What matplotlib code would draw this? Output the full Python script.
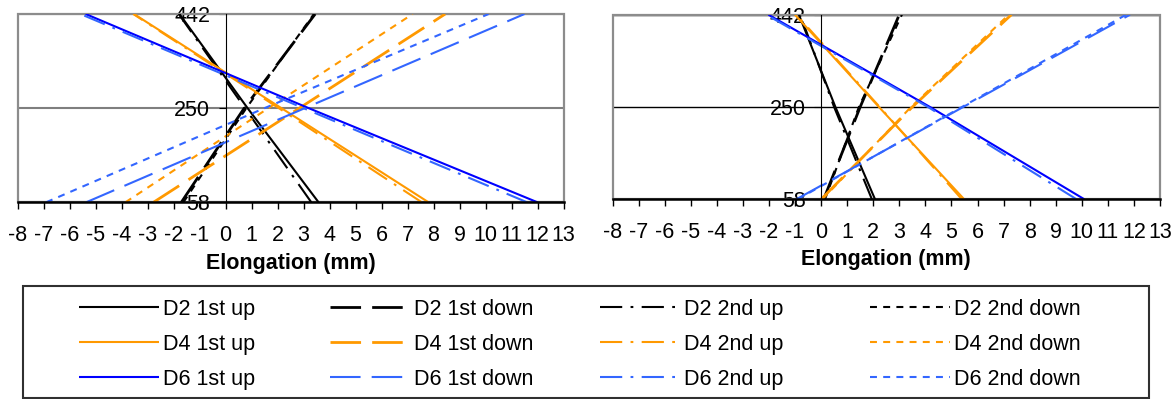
import matplotlib
matplotlib.use('Agg')
import matplotlib.pyplot as plt
from matplotlib.patches import Rectangle

plt.rcParams['font.family'] = ['Liberation Sans', 'DejaVu Sans']
plt.rcParams['axes.unicode_minus'] = False
plt.rcParams['lines.scale_dashes'] = False

# ---------------- data ----------------
positions = [58, 250, 442]          # y positions of the readings
y_ticks = [58, 250, 442]
x_ticks = list(range(-8, 14))
x_tick_labels = [str(v) for v in x_ticks]

series_names = ['D2 1st up', 'D2 1st down', 'D2 2nd up', 'D2 2nd down',
                'D4 1st up', 'D4 1st down', 'D4 2nd up', 'D4 2nd down',
                'D6 1st up', 'D6 1st down', 'D6 2nd up', 'D6 2nd down']

# left panel: elongation (mm) at positions 58 / 250 / 442
left_d2_1st_up = [3.58, 0.85, -1.77]
left_d2_1st_down = [-1.70, 0.72, 3.45]
left_d2_2nd_up = [3.30, 0.75, -1.80]
left_d2_2nd_down = [-1.62, 0.80, 3.40]
left_d4_1st_up = [7.81, 2.15, -3.52]
left_d4_1st_down = [-2.77, 2.84, 8.45]
left_d4_2nd_up = [7.55, 2.05, -3.55]
left_d4_2nd_down = [-3.85, 1.65, 7.20]
left_d6_1st_up = [12.00, 3.20, -5.38]
left_d6_1st_down = [-5.36, 3.05, 11.50]
left_d6_2nd_up = [11.60, 3.00, -5.58]
left_d6_2nd_down = [-6.90, 1.50, 10.12]

# right panel
right_d2_1st_up = [2.07, 0.55, -0.85]
right_d2_1st_down = [0.10, 1.50, 3.00]
right_d2_2nd_up = [1.95, 0.50, -0.80]
right_d2_2nd_down = [0.15, 1.45, 3.10]
right_d4_1st_up = [5.49, 2.22, -1.00]
right_d4_1st_down = [0.00, 3.50, 7.30]
right_d4_2nd_up = [5.40, 2.25, -0.95]
right_d4_2nd_down = [0.05, 3.45, 7.20]
right_d6_1st_up = [10.10, 4.18, -2.02]
right_d6_1st_down = [-0.95, 5.45, 11.85]
right_d6_2nd_up = [9.80, 4.10, -2.10]
right_d6_2nd_down = [-0.90, 5.40, 11.70]

left_series = [left_d2_1st_up, left_d2_1st_down, left_d2_2nd_up, left_d2_2nd_down,
               left_d4_1st_up, left_d4_1st_down, left_d4_2nd_up, left_d4_2nd_down,
               left_d6_1st_up, left_d6_1st_down, left_d6_2nd_up, left_d6_2nd_down]
right_series = [right_d2_1st_up, right_d2_1st_down, right_d2_2nd_up, right_d2_2nd_down,
                right_d4_1st_up, right_d4_1st_down, right_d4_2nd_up, right_d4_2nd_down,
                right_d6_1st_up, right_d6_1st_down, right_d6_2nd_up, right_d6_2nd_down]

# ---------------- styles ----------------
BLACK, ORANGE, BLUE, LBLUE = '#000000', '#FF9900', '#0000FF', '#3366FF'
ls_solid = '-'
ls_dash = (0, (22, 8))
ls_dashdot = (0, (16, 6, 2, 6))
ls_dot = (0, (5, 4.5))

styles = {
    'D2 1st up': dict(color=BLACK, ls=ls_solid, lw=1.5),
    'D2 1st down': dict(color=BLACK, ls=ls_dash, lw=2.0),
    'D2 2nd up': dict(color=BLACK, ls=ls_dashdot, lw=1.5),
    'D2 2nd down': dict(color=BLACK, ls=ls_dot, lw=1.5),
    'D4 1st up': dict(color=ORANGE, ls=ls_solid, lw=1.5),
    'D4 1st down': dict(color=ORANGE, ls=ls_dash, lw=2.0),
    'D4 2nd up': dict(color=ORANGE, ls=ls_dashdot, lw=1.5),
    'D4 2nd down': dict(color=ORANGE, ls=ls_dot, lw=1.5),
    'D6 1st up': dict(color=BLUE, ls=ls_solid, lw=1.5),
    'D6 1st down': dict(color=LBLUE, ls=ls_dash, lw=1.5),
    'D6 2nd up': dict(color=LBLUE, ls=ls_dashdot, lw=1.5),
    'D6 2nd down': dict(color=LBLUE, ls=ls_dot, lw=1.5),
}

W, H = 1176, 399
fig = plt.figure(figsize=(W / 100, H / 100), dpi=100)


def px_rect(x0, y0, x1, y1):
    return [x0 / W, 1 - y1 / H, (x1 - x0) / W, (y1 - y0) / H]


axL = fig.add_axes(px_rect(17.5, 14, 563.5, 202.3))
axR = fig.add_axes(px_rect(612.5, 14.7, 1160, 199.3))

FS = 15.5


def setup(ax, series, grid_color, grid_lw, labelpad):
    handles = {}
    for name, vals in zip(series_names, series):
        st = styles[name]
        ln, = ax.plot(vals, positions, color=st['color'], linestyle=st['ls'],
                      linewidth=st['lw'], label=name, solid_capstyle='butt')
        handles[name] = ln
    ax.set_xlim(-8, 13)
    ax.set_ylim(58, 442)
    ax.spines['left'].set_position(('data', 0))
    ax.spines['left'].set_color('black')
    ax.spines['left'].set_linewidth(0.8)
    ax.spines['top'].set_visible(False)
    ax.spines['right'].set_visible(False)
    ax.spines['bottom'].set_linewidth(1.8)
    ax.spines['bottom'].set_zorder(3)
    ax.add_patch(Rectangle((0, 0), 1, 1, transform=ax.transAxes, fill=False,
                           edgecolor='#8c8c8c', linewidth=1.6, clip_on=False, zorder=1))
    ax.set_xticks(x_ticks)
    ax.set_xticklabels(x_tick_labels)
    ax.set_yticks(y_ticks)
    ax.tick_params(axis='x', direction='out', length=5, width=1, pad=11, labelsize=FS)
    ax.tick_params(axis='y', direction='out', length=5, width=0.8, pad=6, labelsize=FS)
    ax.yaxis.grid(True, color=grid_color, linewidth=grid_lw)
    ax.set_axisbelow(True)
    ax.set_xlabel('Elongation (mm)', fontsize=FS, fontweight='bold', labelpad=labelpad)
    return handles


hL = setup(axL, left_series, '#7f7f7f', 1.5, 5.5)
setup(axR, right_series, '#000000', 1.0, 4.5)

# ---------------- legend ----------------
fig.add_artist(Rectangle((23.3 / W, 1 - 398 / H), (1148.7 - 23.3) / W, (398 - 286) / H,
                         transform=fig.transFigure, fill=False, edgecolor='#303030',
                         linewidth=1.5))
col_x = [79, 330, 600, 870]
kinds = ['1st up', '1st down', '2nd up', '2nd down']
fs_px = FS * 100 / 72
for cx, kind in zip(col_x, kinds):
    names = [f'{d} {kind}' for d in ['D2', 'D4', 'D6']]
    fig.legend([hL[n] for n in names], names, loc='upper left',
               bbox_to_anchor=(cx / W, 1 - 299 / H), frameon=False,
               borderaxespad=0, borderpad=0, fontsize=FS,
               handlelength=80 / fs_px, handletextpad=4 / fs_px,
               labelspacing=0.64)

fig.savefig('out.png', dpi=100)
